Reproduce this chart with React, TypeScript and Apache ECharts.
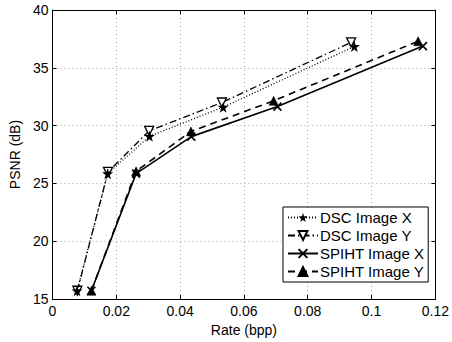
import React, { useEffect, useRef } from "react";
import * as echarts from "echarts";

const xTicks = [0, 0.02, 0.04, 0.06, 0.08, 0.1, 0.12];
const yTicks = [15, 20, 25, 30, 35, 40];

const seriesNames = ["DSC Image X", "DSC Image Y", "SPIHT Image X", "SPIHT Image Y"];

const rateDscX = [0.0077, 0.0173, 0.0304, 0.0535, 0.0946];
const psnrDscX = [15.72, 25.85, 29.08, 31.6, 36.85];

const rateDscY = [0.0078, 0.0174, 0.0303, 0.0531, 0.0936];
const psnrDscY = [15.72, 26.0, 29.55, 32.0, 37.2];

const rateSpihtX = [0.0122, 0.0262, 0.0435, 0.0705, 0.1161];
const psnrSpihtX = [15.72, 25.85, 29.05, 31.65, 36.88];

const rateSpihtY = [0.0122, 0.0262, 0.0434, 0.0693, 0.1146];
const psnrSpihtY = [15.72, 26.05, 29.5, 32.15, 37.3];

const STAR =
  "path://M50 2 L61 34 L96 35 L68 56 L78 90 L50 70 L22 90 L32 56 L4 35 L39 34 Z";
const XMARK = "path://M0 0 L10 10 M10 0 L0 10";

const FONT = "'Liberation Sans', Arial, Helvetica, sans-serif";

function zip(a: number[], b: number[]) {
  return a.map((v, i) => [v, b[i]]);
}

export default function App() {
  const ref = useRef<HTMLDivElement>(null);
  useEffect(() => {
    document.body.style.margin = "0";
    const chart = echarts.init(ref.current!, null, { renderer: "svg" });
    const axisCommon = {
      axisLine: { show: true, onZero: false, lineStyle: { color: "#000", width: 1 } },
      axisTick: { show: true, inside: true, length: 4, lineStyle: { color: "#000" } },
    };
    chart.setOption({
      animation: false,
      backgroundColor: "#fff",
      textStyle: { fontFamily: FONT },
      grid: { left: 49, right: 15, top: 10, bottom: 42, containLabel: false },
      legend: {
        orient: "vertical",
        left: 283,
        top: 207,
        data: seriesNames,
        backgroundColor: "#fff",
        borderColor: "#000",
        borderWidth: 1,
        borderRadius: 0,
        padding: [3, 4, 3, 4],
        itemGap: 3,
        itemWidth: 30,
        itemHeight: 11,
        textStyle: { fontFamily: FONT, fontSize: 15, color: "#000", padding: [0, 0, 0, -3] },
      },
      xAxis: [
        {
          type: "value",
          min: xTicks[0],
          max: xTicks[xTicks.length - 1],
          interval: xTicks[1] - xTicks[0],
          name: "Rate (bpp)",
          nameLocation: "middle",
          nameGap: 20,
          nameTextStyle: { fontFamily: FONT, fontSize: 14, color: "#000" },
          ...axisCommon,
          axisLabel: {
            margin: 5,
            fontFamily: FONT,
            fontSize: 14,
            color: "#000",
            formatter: (v: number) => String(Math.round(v * 100) / 100),
          },
          splitLine: { show: true, lineStyle: { color: "#aaa", type: [1, 3], width: 1 } },
        },
        {
          type: "value",
          position: "top",
          min: xTicks[0],
          max: xTicks[xTicks.length - 1],
          interval: xTicks[1] - xTicks[0],
          ...axisCommon,
          axisLabel: { show: false },
          splitLine: { show: false },
        },
      ],
      yAxis: [
        {
          type: "value",
          min: yTicks[0],
          max: yTicks[yTicks.length - 1],
          interval: yTicks[1] - yTicks[0],
          name: "PSNR (dB)",
          nameLocation: "middle",
          nameGap: 24,
          nameTextStyle: { fontFamily: FONT, fontSize: 14, color: "#000" },
          ...axisCommon,
          axisLabel: { margin: 4, fontFamily: FONT, fontSize: 14, color: "#000" },
          splitLine: { show: true, lineStyle: { color: "#aaa", type: [1, 3], width: 1 } },
        },
        {
          type: "value",
          position: "right",
          min: yTicks[0],
          max: yTicks[yTicks.length - 1],
          interval: yTicks[1] - yTicks[0],
          ...axisCommon,
          axisLabel: { show: false },
          splitLine: { show: false },
        },
      ],
      series: [
        {
          name: seriesNames[0],
          type: "line",
          data: zip(rateDscX, psnrDscX),
          symbol: STAR,
          symbolSize: 11,
          showAllSymbol: true,
          itemStyle: { color: "#000", borderWidth: 0 },
          lineStyle: { color: "#000", width: 1.3, type: [1, 2] },
          z: 4,
        },
        {
          name: seriesNames[1],
          type: "line",
          data: zip(rateDscY, psnrDscY),
          symbol: "triangle",
          symbolRotate: 180,
          symbolSize: 9,
          itemStyle: { color: "#fff", borderColor: "#000", borderWidth: 1.3 },
          lineStyle: { color: "#000", width: 1.3, type: [7, 3, 1.5, 3] },
          z: 3,
        },
        {
          name: seriesNames[2],
          type: "line",
          data: zip(rateSpihtX, psnrSpihtX),
          symbol: XMARK,
          symbolSize: 8,
          itemStyle: { color: "none", borderColor: "#000", borderWidth: 1.6 },
          lineStyle: { color: "#000", width: 1.6, type: "solid" },
          z: 4,
        },
        {
          name: seriesNames[3],
          type: "line",
          data: zip(rateSpihtY, psnrSpihtY),
          symbol: "triangle",
          symbolSize: 9,
          itemStyle: { color: "#000", borderColor: "#000", borderWidth: 0.5 },
          lineStyle: { color: "#000", width: 1.6, type: [7, 5] },
          z: 3,
        },
      ],
    });
    return () => chart.dispose();
  }, []);
  return <div ref={ref} style={{ width: 452, height: 342 }} />;
}
